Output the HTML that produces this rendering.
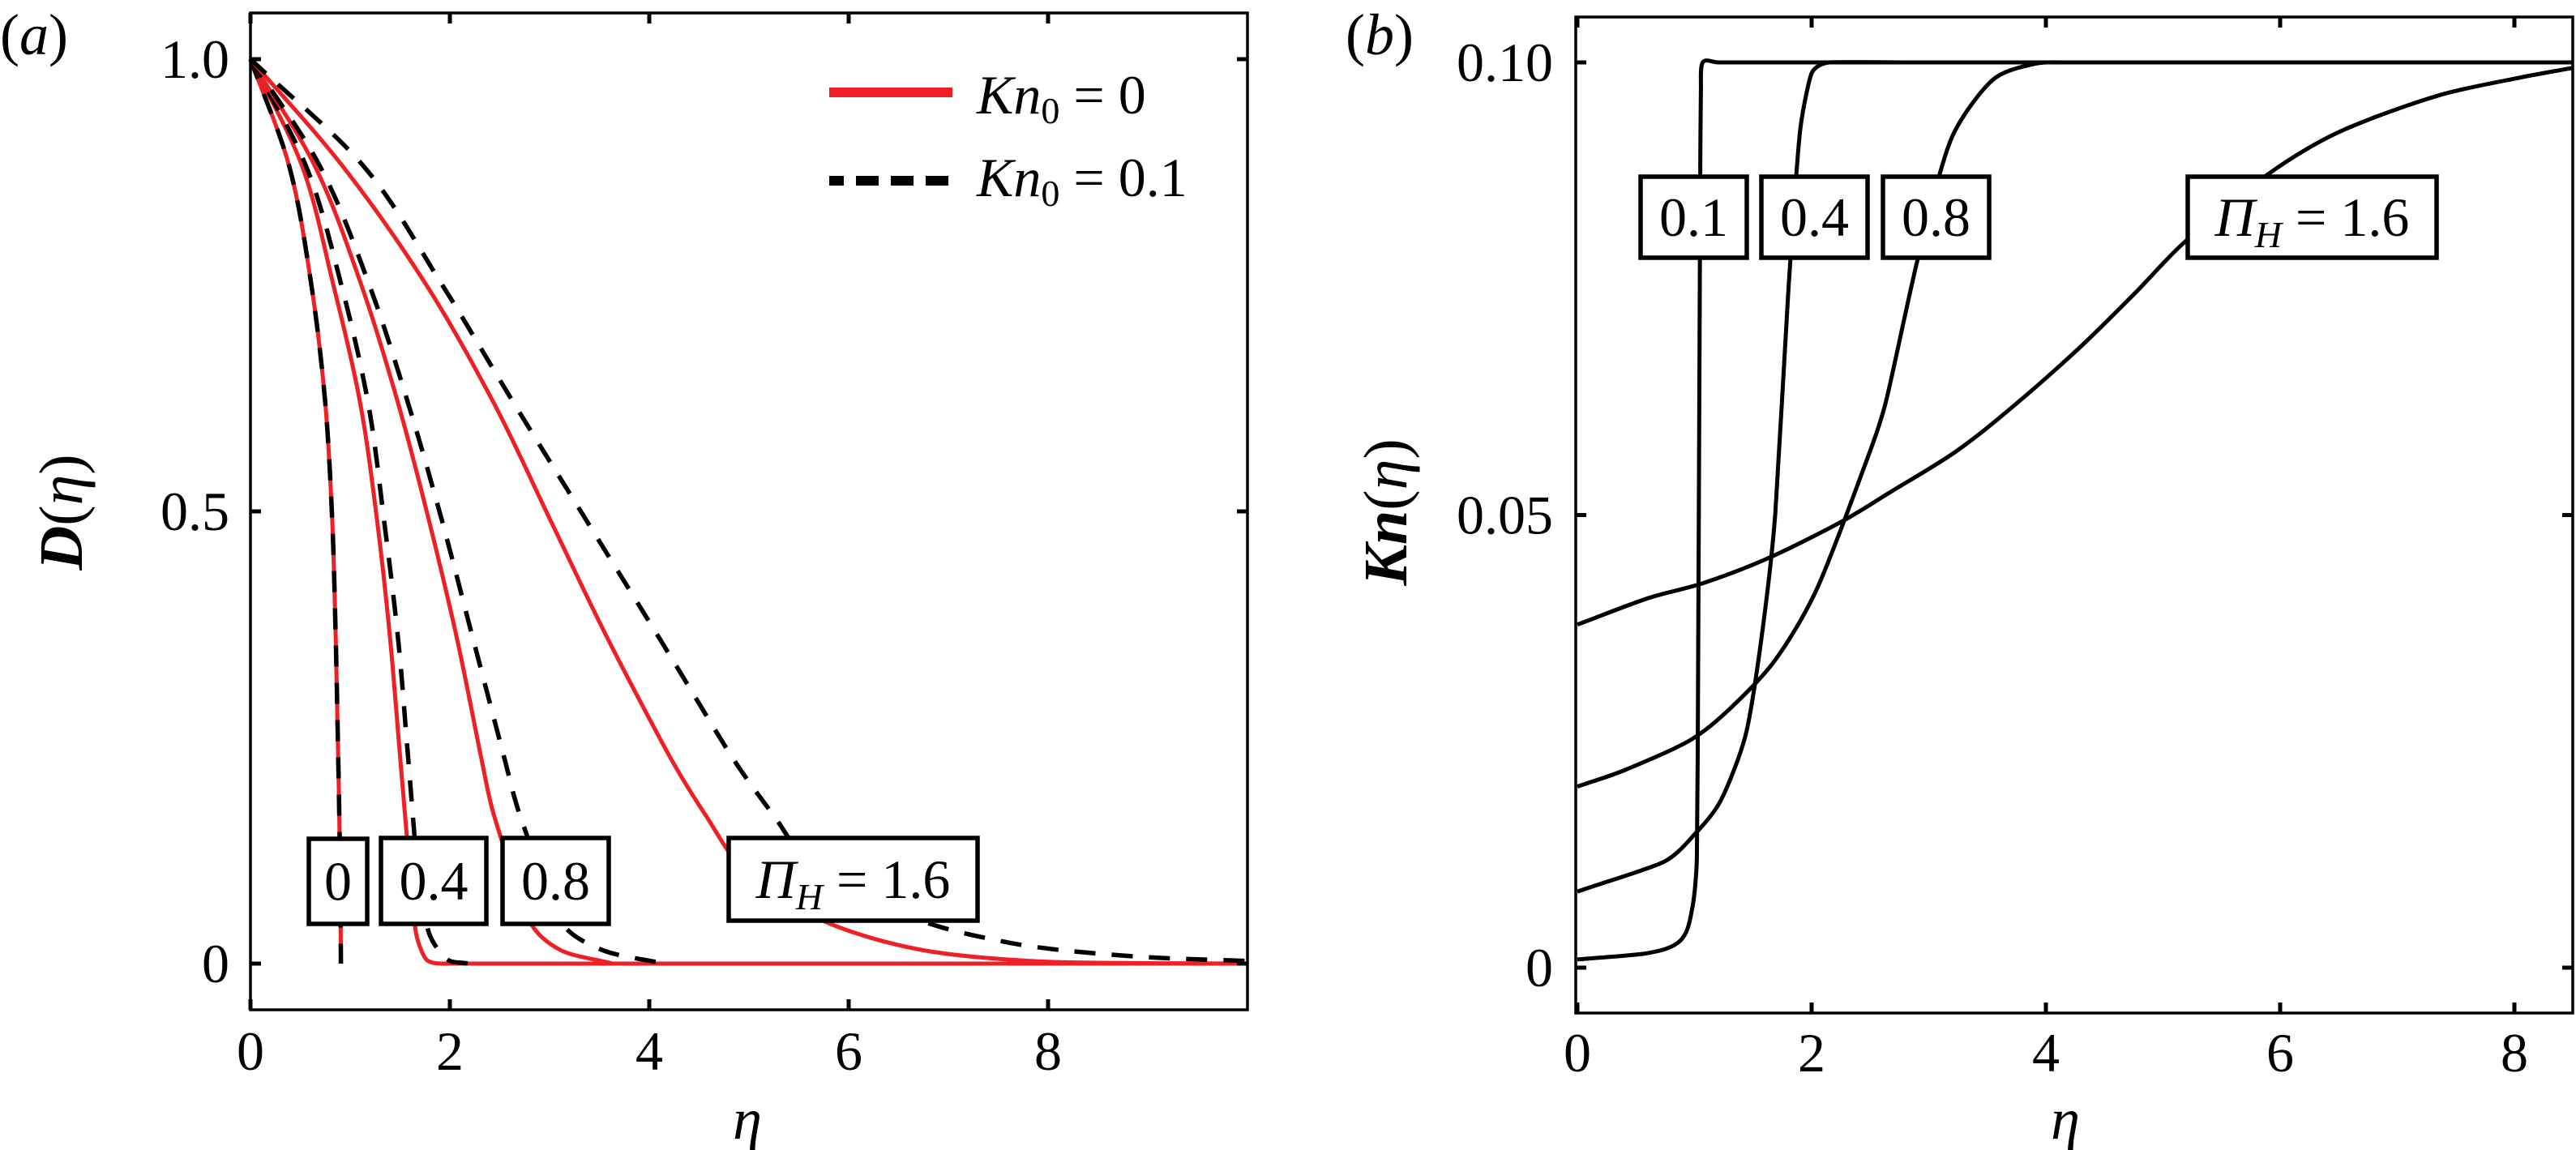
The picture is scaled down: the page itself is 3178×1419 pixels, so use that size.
<!DOCTYPE html>
<html><head><meta charset="utf-8"><style>
html,body{margin:0;padding:0;background:#fff;}
svg{display:block;}
svg text{font-family:"Liberation Serif","Times New Roman","DejaVu Serif",serif;}
</style></head><body>
<svg id="fig" width="3178" height="1419" viewBox="0 0 3178 1419" xmlns="http://www.w3.org/2000/svg" font-family="Liberation Serif, Times New Roman, DejaVu Serif, serif">
<rect width="3178" height="1419" fill="#fff"/>
<g id="pa"></g>
<g id="pb"></g>
</svg>
<script>
// ---------- Panel (a) data: D(eta) ----------
const aXTicks = [0, 2, 4, 6, 8];
const aYTicks = [0, 0.5, 1.0];
const aYTickLabels = ["0", "0.5", "1.0"];
const aRed0Eta = [0, 0.39, 0.61, 0.75, 0.82, 0.855, 0.88, 0.9, 0.907];
const aRed0D   = [1, 0.881, 0.751, 0.62, 0.49, 0.36, 0.23, 0.1, 0];
const aDash0Eta = aRed0Eta;
const aDash0D   = aRed0D;
const aRed04Eta = [0, 0.52, 0.83, 1.1, 1.27, 1.4, 1.5, 1.6, 1.66, 1.76, 1.92, 3, 10];
const aRed04D   = [1, 0.881, 0.751, 0.62, 0.49, 0.36, 0.23, 0.1, 0.034, 0.005, 0, 0, 0];
const aDash04Eta = [0, 0.56, 0.91, 1.18, 1.34, 1.48, 1.58, 1.68, 1.79, 1.97, 2.18];
const aDash04D   = [1, 0.881, 0.751, 0.62, 0.49, 0.36, 0.23, 0.1, 0.034, 0.005, 0];
const aRed08Eta = [0, 0.65, 1.11, 1.48, 1.79, 2.07, 2.31, 2.44, 2.8, 3.11, 3.63];
const aRed08D   = [1, 0.881, 0.751, 0.62, 0.49, 0.36, 0.23, 0.165, 0.047, 0.015, 0];
const aDash08Eta = [0, 0.70, 1.19, 1.58, 1.92, 2.23, 2.54, 2.70, 3.11, 3.53, 4.15];
const aDash08D   = [1, 0.881, 0.751, 0.62, 0.49, 0.36, 0.23, 0.165, 0.047, 0.015, 0];
const aRed16Eta = [0, 0.93, 1.76, 2.44, 3.01, 3.58, 4.2, 4.56, 4.98, 5.75, 6.74, 8.0, 10];
const aRed16D   = [1, 0.881, 0.751, 0.62, 0.49, 0.36, 0.23, 0.165, 0.1, 0.047, 0.015, 0.002, 0];
const aDash16Eta = [0, 1.14, 1.92, 2.64, 3.37, 4.1, 4.82, 5.24, 5.7, 6.74, 7.52, 8.13, 9.0, 10];
const aDash16D   = [1, 0.881, 0.751, 0.62, 0.49, 0.36, 0.23, 0.165, 0.1, 0.047, 0.025, 0.015, 0.007, 0.003];

// ---------- Panel (b) data: Kn(eta) ----------
const bXTicks = [0, 2, 4, 6, 8];
const bYTicks = [0, 0.05, 0.10];
const bYTickLabels = ["0", "0.05", "0.10"];
const b01Eta = [0, 0.6, 0.88, 0.98, 1.02, 1.03, 1.04, 1.05, 1.055, 1.07, 1.2, 8.5];
const b01Kn  = [0.0009, 0.0016, 0.003, 0.0065, 0.012, 0.03, 0.06, 0.09, 0.097, 0.1, 0.1, 0.1];
const b04Eta = [0, 0.74, 1.02, 1.23, 1.44, 1.58, 1.69, 1.8, 1.9, 2.0, 2.15, 3, 8.5];
const b04Kn  = [0.0084, 0.0117, 0.015, 0.0186, 0.0259, 0.0372, 0.0502, 0.0745, 0.0923, 0.0988, 0.1, 0.1, 0.1];
const b08Eta = [0, 0.4, 0.96, 1.31, 1.69, 2.04, 2.42, 2.63, 2.91, 3.19, 3.54, 3.89, 4.2, 5, 8.5];
const b08Kn  = [0.02, 0.0218, 0.0251, 0.0287, 0.034, 0.0417, 0.0543, 0.0623, 0.0785, 0.0915, 0.098, 0.0998, 0.1, 0.1, 0.1];
const b16Eta = [0, 0.6, 1.08, 1.64, 2.26, 2.68, 3.23, 3.72, 4.28, 4.76, 5.18, 5.88, 6.5, 7.34, 8.04, 8.5];
const b16Kn  = [0.0379, 0.0408, 0.0425, 0.0453, 0.0493, 0.0526, 0.057, 0.062, 0.0684, 0.0745, 0.0801, 0.0875, 0.0923, 0.0963, 0.0983, 0.0994];

const NS = "http://www.w3.org/2000/svg";
const FONT = '"Liberation Serif", "Times New Roman", "DejaVu Serif", serif';
function mk(parent, tag, attrs, text) {
  const e = document.createElementNS(NS, tag);
  for (const k in attrs) e.setAttribute(k, attrs[k]);
  if (tag === "text") e.setAttribute("font-family", FONT);
  if (text !== undefined) e.textContent = text;
  parent.appendChild(e);
  return e;
}
function makeAxis(x0, x1, dmin, dmax, y0, y1, rmin, rmax) {
  return {
    x: v => x0 + (v - dmin) / (dmax - dmin) * (x1 - x0),
    y: v => y0 + (v - rmin) / (rmax - rmin) * (y1 - y0)
  };
}
// smooth path; handle length limited by the shorter adjacent segment to avoid overshoot
function pathD(ax, xs, ys) {
  const P = xs.map((v, i) => [ax.x(v), ax.y(ys[i])]);
  const n = P.length;
  const seg = [];
  for (let i = 0; i < n - 1; i++) seg.push(Math.hypot(P[i + 1][0] - P[i][0], P[i + 1][1] - P[i][1]));
  const tan = P.map((p, i) => {
    const a = P[Math.max(0, i - 1)], b = P[Math.min(n - 1, i + 1)];
    const dx = b[0] - a[0], dy = b[1] - a[1];
    const L = Math.hypot(dx, dy) || 1;
    return [dx / L, dy / L];
  });
  const hl = P.map((p, i) => {
    const l1 = i > 0 ? seg[i - 1] : Infinity, l2 = i < n - 1 ? seg[i] : Infinity;
    return Math.min(l1, l2) / 3;
  });
  let d = "M" + P[0][0].toFixed(1) + " " + P[0][1].toFixed(1);
  for (let i = 0; i < n - 1; i++) {
    const p = P[i], q = P[i + 1];
    const c1 = [p[0] + tan[i][0] * hl[i], p[1] + tan[i][1] * hl[i]];
    const c2 = [q[0] - tan[i + 1][0] * hl[i + 1], q[1] - tan[i + 1][1] * hl[i + 1]];
    d += " C" + c1[0].toFixed(1) + " " + c1[1].toFixed(1) + " " + c2[0].toFixed(1) + " " + c2[1].toFixed(1) + " " + q[0].toFixed(1) + " " + q[1].toFixed(1);
  }
  return d;
}

// ---------- Panel (a) ----------
const pa = document.getElementById("pa");
const A = { L: 309, R: 1539, T: 16, B: 1246 };
const ax = makeAxis(A.L, A.R, 0, 10, 1189, 73, 0, 1.0);

function curveA(name, xs, ys, color, dashed) {
  const p = mk(pa, "path", { d: pathD(ax, xs, ys), fill: "none", stroke: color, "stroke-width": dashed ? 5.5 : 5, "stroke-linejoin": "round" });
  if (dashed) p.setAttribute("stroke-dasharray", "26 20");
  
  
}
curveA("curve-a-red-0", aRed0Eta, aRed0D, "#ee1f25", false);
curveA("curve-a-dash-0", aDash0Eta, aDash0D, "#000", true);
curveA("curve-a-red-0.4", aRed04Eta, aRed04D, "#ee1f25", false);
curveA("curve-a-dash-0.4", aDash04Eta, aDash04D, "#000", true);
curveA("curve-a-red-0.8", aRed08Eta, aRed08D, "#ee1f25", false);
curveA("curve-a-dash-0.8", aDash08Eta, aDash08D, "#000", true);
curveA("curve-a-red-1.6", aRed16Eta, aRed16D, "#ee1f25", false);
curveA("curve-a-dash-1.6", aDash16Eta, aDash16D, "#000", true);

function frame(g, F, xTicks, yTicks, axis, yLabels, prefix, xLblY, yLblX) {
  const r = mk(g, "rect", { x: F.L, y: F.T, width: F.R - F.L, height: F.B - F.T, fill: "none", stroke: "#000", "stroke-width": 3.5 });
  
  
  xTicks.forEach(t => {
    const x = axis.x(t);
    const tk = mk(g, "path", { d: `M${x} ${F.B}V${F.B - 13}M${x} ${F.T}V${F.T + 13}`, stroke: "#000", "stroke-width": 5 });
    
    
    const tl = mk(g, "text", { x: x, y: xLblY, "font-size": 68, "text-anchor": "middle" }, String(t));
    
    
  });
  yTicks.forEach((t, i) => {
    const y = axis.y(t);
    const tk = mk(g, "path", { d: `M${F.L} ${y}H${F.L + 13}M${F.R} ${y}H${F.R - 13}`, stroke: "#000", "stroke-width": 5 });
    
    
    const tl = mk(g, "text", { x: yLblX, y: y + 23, "font-size": 68, "text-anchor": "end" }, yLabels[i]);
    
    
  });
}
frame(pa, A, aXTicks, aYTicks, ax, aYTickLabels, "a", 1320, 283);

function box(g, name, x, y, w, h, html) {
  const bg = mk(g, "g", {});
  
  
  mk(bg, "rect", { x: x, y: y, width: w, height: h, fill: "#fff", stroke: "#000", "stroke-width": 5.5 });
  const t = mk(bg, "text", { x: x + w / 2, y: y + h / 2 + 23, "font-size": 68, "text-anchor": "middle" });
  t.innerHTML = html;
}
const PI_H = '<tspan font-style="italic">Π</tspan><tspan font-style="italic" font-size="46" dy="14">H</tspan><tspan dy="-14"> = 1.6</tspan>';
box(pa, "label-box-0", 381, 1035, 72, 105, "0");
box(pa, "label-box-0.4", 470, 1034, 130, 106, "0.4");
box(pa, "label-box-0.8", 620, 1034, 131, 106, "0.8");
box(pa, "label-box-1.6", 899, 1034, 307, 102, PI_H);

// legend
const lg = mk(pa, "g", {});


const l1 = mk(lg, "line", { x1: 1023, y1: 114, x2: 1175, y2: 114, stroke: "#ee1f25", "stroke-width": 12 });


const l2 = mk(lg, "line", { x1: 1023, y1: 223, x2: 1175, y2: 223, stroke: "#000", "stroke-width": 12, "stroke-dasharray": "18 15 28 15 28 15 28" });


const t1 = mk(lg, "text", { x: 1205, y: 140, "font-size": 68 });
t1.innerHTML = '<tspan font-style="italic">Kn</tspan><tspan font-size="46" dy="12">0</tspan><tspan dy="-12"> = 0</tspan>';


const t2 = mk(lg, "text", { x: 1205, y: 242, "font-size": 68 });
t2.innerHTML = '<tspan font-style="italic">Kn</tspan><tspan font-size="46" dy="12">0</tspan><tspan dy="-12"> = 0.1</tspan>';



const pla = mk(pa, "text", { x: 0, y: 67, "font-size": 72 });
pla.innerHTML = '(<tspan font-style="italic">a</tspan>)';


const yla = mk(pa, "text", { x: 0, y: 0, "font-size": 76, "text-anchor": "middle", transform: "translate(101 632) rotate(-90)" });
yla.innerHTML = '<tspan font-style="italic" font-weight="bold">D</tspan>(<tspan font-style="italic">η</tspan>)';


const xla = mk(pa, "text", { x: 922, y: 1405, "font-size": 72, "font-style": "italic", "text-anchor": "middle" }, "η");



// ---------- Panel (b) ----------
const pb = document.getElementById("pb");
const B = { L: 1944, R: 3174, T: 21, B: 1250 };
const bx = makeAxis(1946, 1946 + 8.5 * 144.5, 0, 8.5, 1194, 77, 0, 0.10);
function curveB(name, xs, ys) {
  const p = mk(pb, "path", { d: pathD(bx, xs, ys), fill: "none", stroke: "#000", "stroke-width": 5, "stroke-linejoin": "round" });
  
  
}
curveB("curve-b-0.1", b01Eta, b01Kn);
curveB("curve-b-0.4", b04Eta, b04Kn);
curveB("curve-b-0.8", b08Eta, b08Kn);
curveB("curve-b-1.6", b16Eta, b16Kn);
frame(pb, B, bXTicks, bYTicks, bx, bYTickLabels, "b", 1322, 1916);
box(pb, "label-box-b-0.1", 2024, 218, 131, 100, "0.1");
box(pb, "label-box-b-0.4", 2173, 218, 131, 100, "0.4");
box(pb, "label-box-b-0.8", 2323, 218, 131, 100, "0.8");
box(pb, "label-box-b-1.6", 2699, 218, 307, 100, PI_H);

const plb = mk(pb, "text", { x: 1660, y: 67, "font-size": 72 });
plb.innerHTML = '(<tspan font-style="italic">b</tspan>)';


const ylb = mk(pb, "text", { x: 0, y: 0, "font-size": 76, "text-anchor": "middle", transform: "translate(1735 632) rotate(-90)" });
ylb.innerHTML = '<tspan font-style="italic" font-weight="bold">Kn</tspan>(<tspan font-style="italic">η</tspan>)';


const xlb = mk(pb, "text", { x: 2548, y: 1405, "font-size": 72, "font-style": "italic", "text-anchor": "middle" }, "η");


</script>
</body></html>
